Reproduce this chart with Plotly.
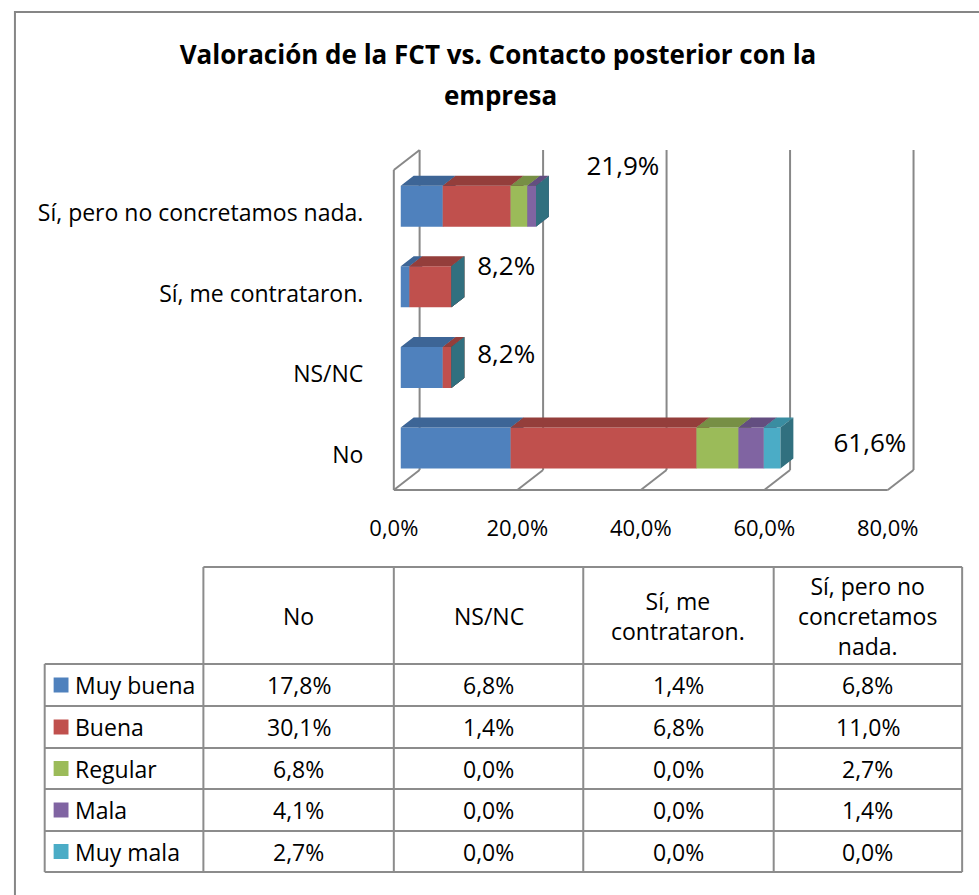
import plotly.graph_objects as go

W, H = 979, 895

# ---- data (percent) ----
categories = ["No", "NS/NC", "Sí, me contrataron.", "Sí, pero no concretamos nada."]
header_text = ["No", "NS/NC", "Sí, me<br>contrataron.", "Sí, pero no<br>concretamos<br>nada."]
series = ["Muy buena", "Buena", "Regular", "Mala", "Muy mala"]
muy_buena = [17.8, 6.8, 1.4, 6.8]
buena = [30.1, 1.4, 6.8, 11.0]
regular = [6.8, 0.0, 0.0, 2.7]
mala = [4.1, 0.0, 0.0, 1.4]
muy_mala = [2.7, 0.0, 0.0, 0.0]
totals = [61.6, 8.2, 8.2, 21.9]
x_ticks = [0, 20, 40, 60, 80]

values = [muy_buena, buena, regular, mala, muy_mala]

# ---- styles ----
front_col = ["#4F81BD", "#C0504D", "#9BBB59", "#8064A2", "#4BACC6"]
top_col = ["#3D6596", "#943E3B", "#778F45", "#634E80", "#3A8DA1"]
side_col = ["#32557F", "#7E3533", "#657A3A", "#53426B", "#31707F"]
grid_col = "#888888"
FONT = "Open Sans"

# pixel -> paper coords
def px(x):
    return x / W

def py(y):
    return 1 - y / H

def pct(v):
    return f"{v:.1f}%".replace(".", ",")

# scale of the plot: data units <-> pixels
PX_X = 6.225     # pixels per 1 %
PX_Y = 80.6      # pixels per category step
X0, Y0 = 389, 448  # pixel position of value 0 / first category

def dx(p):
    return p / PX_X

def dy(p):
    return p / PX_Y

dom_x = (372, 935)
dom_y = (140, 500)  # top, bottom

# 3D geometry
wall_dx, wall_dy = dx(26), dy(20)
floor_y = dy(Y0 - 490)
wall_top = dy(Y0 - 170)
bar_x0 = dx(7)
bar_dx, bar_dy = dx(13), dy(10)
half_h = dy(20.5)

fig = go.Figure()

# walls / floor / gridlines
wx, wy = [], []
def seg(x1, y1, x2, y2):
    wx.extend([x1, x2, None])
    wy.extend([y1, y2, None])

seg(0, floor_y, 0, wall_top)
seg(0, wall_top, wall_dx, wall_top + wall_dy)
seg(0, floor_y, x_ticks[-1], floor_y)
for v in x_ticks:
    seg(v, floor_y, v + wall_dx, floor_y + wall_dy)
    seg(v + wall_dx, floor_y + wall_dy, v + wall_dx, wall_top + wall_dy)

fig.add_trace(go.Scatter(x=wx, y=wy, mode="lines", line=dict(color=grid_col, width=2),
                         hoverinfo="skip", showlegend=False, cliponaxis=False))

# 3D stacked bars
cum = [0.0] * len(categories)
for s, name in enumerate(series):
    fx, fy, tx, ty, sx, sy = [], [], [], [], [], []
    for c in range(len(categories)):
        v = values[s][c]
        a = cum[c] + bar_x0
        b = a + v
        lo, hi = c - half_h, c + half_h
        fx += [a, b, b, a, a, None]
        fy += [lo, lo, hi, hi, lo, None]
        tx += [a, b, b + bar_dx, a + bar_dx, a, None]
        ty += [hi, hi, hi + bar_dy, hi + bar_dy, hi, None]
        sx += [b, b + bar_dx, b + bar_dx, b, b, None]
        sy += [lo, lo + bar_dy, hi + bar_dy, hi, lo, None]
        cum[c] += v
    for xs, ys, col in ((fx, fy, front_col[s]), (tx, ty, top_col[s]), (sx, sy, side_col[s])):
        fig.add_trace(go.Scatter(x=xs, y=ys, mode="lines", fill="toself", fillcolor=col,
                                 line=dict(width=0, color=col), name=name,
                                 hoverinfo="skip", showlegend=False))

# total labels
label_x = [77.1, 18.2, 18.2, 37.1]
label_y = [0.025, 1.13, 2.23, 3.47]
fig.add_trace(go.Scatter(
    x=label_x, y=label_y, mode="text",
    text=[pct(t) for t in totals],
    textfont=dict(family=FONT, size=26, color="black"),
    hoverinfo="skip", showlegend=False, cliponaxis=False))

fig.update_xaxes(
    domain=[px(dom_x[0]), px(dom_x[1])],
    range=[dx(dom_x[0] - X0), dx(dom_x[1] - X0)],
    tickvals=x_ticks, ticktext=[pct(v) for v in x_ticks],
    ticks="outside", ticklen=9, tickcolor="rgba(0,0,0,0)",
    showgrid=False, zeroline=False, showline=False,
    tickfont=dict(family=FONT, size=22, color="black"),
)
fig.update_yaxes(
    domain=[py(dom_y[1]), py(dom_y[0])],
    range=[dy(Y0 - dom_y[1]), dy(Y0 - dom_y[0])],
    tickvals=[c - 0.085 for c in range(len(categories))], ticktext=categories,
    ticks="outside", ticklen=8, tickcolor="rgba(0,0,0,0)",
    showgrid=False, zeroline=False, showline=False,
    tickfont=dict(family=FONT, size=23, color="black"),
)

# ---- data table ----
shapes = []
annotations = []
tcol = "#8C8C8C"
col_x = [197, 389, 580, 772, 962]
row_y = [664, 706, 748, 789, 831, 872]
head_top = 567
left_x = 37
TFS = 23

def line(x1, y1, x2, y2, color=tcol, width=2):
    shapes.append(dict(type="line", xref="paper", yref="paper",
                       x0=px(x1), y0=py(y1), x1=px(x2), y1=py(y2),
                       line=dict(color=color, width=width)))

line(col_x[0], head_top, col_x[-1], head_top)
for x in col_x:
    line(x, head_top, x, row_y[-1])
line(left_x, row_y[0], left_x, row_y[-1])
for y in row_y:
    line(left_x, y, col_x[-1], y)

for i, htxt in enumerate(header_text):
    annotations.append(dict(text=htxt, xref="paper", yref="paper",
                            x=px((col_x[i] + col_x[i + 1]) / 2), y=py((head_top + row_y[0]) / 2),
                            xanchor="center", yanchor="middle", showarrow=False,
                            font=dict(family=FONT, size=TFS, color="black")))

for s, name in enumerate(series):
    yc = (row_y[s] + row_y[s + 1]) / 2
    shapes.append(dict(type="rect", xref="paper", yref="paper",
                       x0=px(46), x1=px(61), y0=py(yc - 7.5), y1=py(yc + 7.5),
                       fillcolor=front_col[s], line=dict(width=0)))
    annotations.append(dict(text=name, xref="paper", yref="paper",
                            x=px(66), y=py(yc), xanchor="left", yanchor="middle",
                            showarrow=False, font=dict(family=FONT, size=TFS, color="black")))
    for c in range(len(categories)):
        annotations.append(dict(text=pct(values[s][c]),
                                xref="paper", yref="paper",
                                x=px((col_x[c] + col_x[c + 1]) / 2), y=py(yc),
                                xanchor="center", yanchor="middle", showarrow=False,
                                font=dict(family=FONT, size=TFS, color="black")))

# second title line
annotations.append(dict(text="<b>empresa</b>", xref="paper", yref="paper",
                        x=px(497), y=py(95), xanchor="center", yanchor="middle",
                        showarrow=False, font=dict(family=FONT, size=26, color="black")))

# chart frame
shapes.append(dict(type="rect", xref="paper", yref="paper",
                   x0=px(7), y0=py(12), x1=px(W + 20), y1=py(H + 20),
                   line=dict(color="#868686", width=2), fillcolor="rgba(0,0,0,0)"))

fig.update_layout(
    width=W, height=H,
    margin=dict(l=0, r=0, t=0, b=0),
    paper_bgcolor="white", plot_bgcolor="white",
    title=dict(text="<b>Valoración de la FCT vs. Contacto posterior con la</b>",
               x=px(498), xanchor="center", y=py(55), yanchor="middle",
               font=dict(family=FONT, size=26, color="black")),
    shapes=shapes,
    annotations=annotations,
    showlegend=False,
)

# drop the default 8px page margin so the figure sits at the window origin
fig.write_html("out.html", config={"displayModeBar": False},
               post_script="document.body.style.margin='0';")
